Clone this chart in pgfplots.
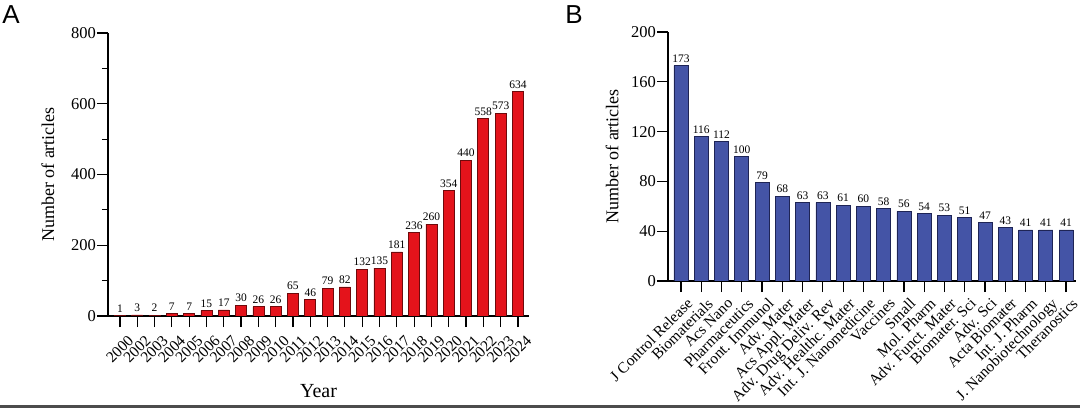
\documentclass[border=0pt]{standalone}
\usepackage{fontspec}
\setmainfont{Liberation Serif}
\newfontfamily\sansf{Liberation Sans}
\usepackage{pgfplots}
\pgfplotsset{compat=1.18}
\definecolor{barred}{RGB}{228,19,27}
\definecolor{barrededge}{RGB}{110,10,12}
\definecolor{barblue}{RGB}{68,84,166}
\definecolor{barblueedge}{RGB}{30,36,85}
\pgfplotsset{
  common/.style={
    /pgf/number format/assume math mode=true,
    scale only axis,
    axis x line*=bottom,
    axis y line*=left,
    axis line style={line width=1.2bp, black},
    every tick/.style={black, line width=1.2bp},
    major tick length=11bp,
    minor tick length=6bp,
    tick align=outside,
    ymin=0,
    ybar,
    yticklabel style={font=\fontsize{16.5bp}{18bp}\selectfont, inner sep=1bp},
    xticklabel style={font=\fontsize{15.5bp}{16bp}\selectfont, rotate=45, anchor=north east, inner sep=1bp},
    nodes near coords,
    nodes near coords style={font=\fontsize{11.5bp}{12bp}\selectfont, black, inner sep=3bp},
  }
}
\begin{document}
\begin{tikzpicture}
\useasboundingbox (0,0) rectangle (1080bp,408bp);
\fill[gray!60!black] (0,0.5bp) rectangle (1080bp,2.5bp);
\node[font=\sansf\fontsize{26bp}{28bp}\selectfont, anchor=center] at (11bp,393bp) {A};
\node[font=\sansf\fontsize{26bp}{28bp}\selectfont, anchor=center] at (574bp,393bp) {B};
\begin{axis}[common,
  at={(108bp,92bp)}, anchor=south west,
  width=421bp, height=283bp,
  xmin=-0.69, xmax=23.64,
  ymax=800, ytick={0,200,400,600,800}, minor ytick={100,300,500,700},
  xtick={0,...,23},
  xticklabels={2000,2002,2003,2004,2005,2006,2007,2008,2009,2010,2011,2012,2013,2014,2015,2016,2017,2018,2019,2020,2021,2022,2023,2024},
  xticklabel style={yshift=-9bp, xshift=1bp},
  bar width=11bp,
  ylabel={Number of articles},
  every axis y label/.style={at={(axis description cs:0,0.5)}, xshift=-60bp, rotate=90, anchor=center, font=\fontsize{18bp}{20bp}\selectfont},
  xlabel={Year},
  every axis x label/.style={at={(axis description cs:0.5,0)}, yshift=-75bp, anchor=center, font=\fontsize{20bp}{22bp}\selectfont},
]
\addplot[fill=barred, draw=barrededge, line width=0.7bp] coordinates {
(0,1) (1,3) (2,2) (3,7) (4,7) (5,15) (6,17) (7,30) (8,26) (9,26) (10,65) (11,46)
(12,79) (13,82) (14,132) (15,135) (16,181) (17,236) (18,260) (19,354) (20,440) (21,558) (22,573) (23,634)};
\end{axis}
\begin{axis}[common,
  at={(668bp,127bp)}, anchor=south west,
  width=408bp, height=249bp,
  xmin=-0.64, xmax=19.49,
  ymax=200, ytick={0,40,80,120,160,200},
  xtick={0,...,19},
  xticklabels={J Control Release,Biomaterials,Acs Nano,Pharmaceutics,Front. Immunol,Adv. Mater,Acs Appl. Mater,Adv. Drug Deliv. Rev,Adv. Healthc. Mater,Int. J. Nanomedicine,Vaccines,Small,Mol. Pharm,Adv. Funct. Mater,Biomater. Sci,Adv. Sci,Acta Biomater,Int. J. Pharm,J. Nanobiotechnology,Theranostics},
  xticklabel style={yshift=-6bp, xshift=1bp},
  bar width=14bp,
  ylabel={Number of articles},
  every axis y label/.style={at={(axis description cs:0,0.5)}, xshift=-56bp, rotate=90, anchor=center, font=\fontsize{18bp}{20bp}\selectfont},
]
\addplot[fill=barblue, draw=barblueedge, line width=0.7bp] coordinates {
(0,173) (1,116) (2,112) (3,100) (4,79) (5,68) (6,63) (7,63) (8,61) (9,60) (10,58) (11,56)
(12,54) (13,53) (14,51) (15,47) (16,43) (17,41) (18,41) (19,41)};
\end{axis}
\end{tikzpicture}
\end{document}
